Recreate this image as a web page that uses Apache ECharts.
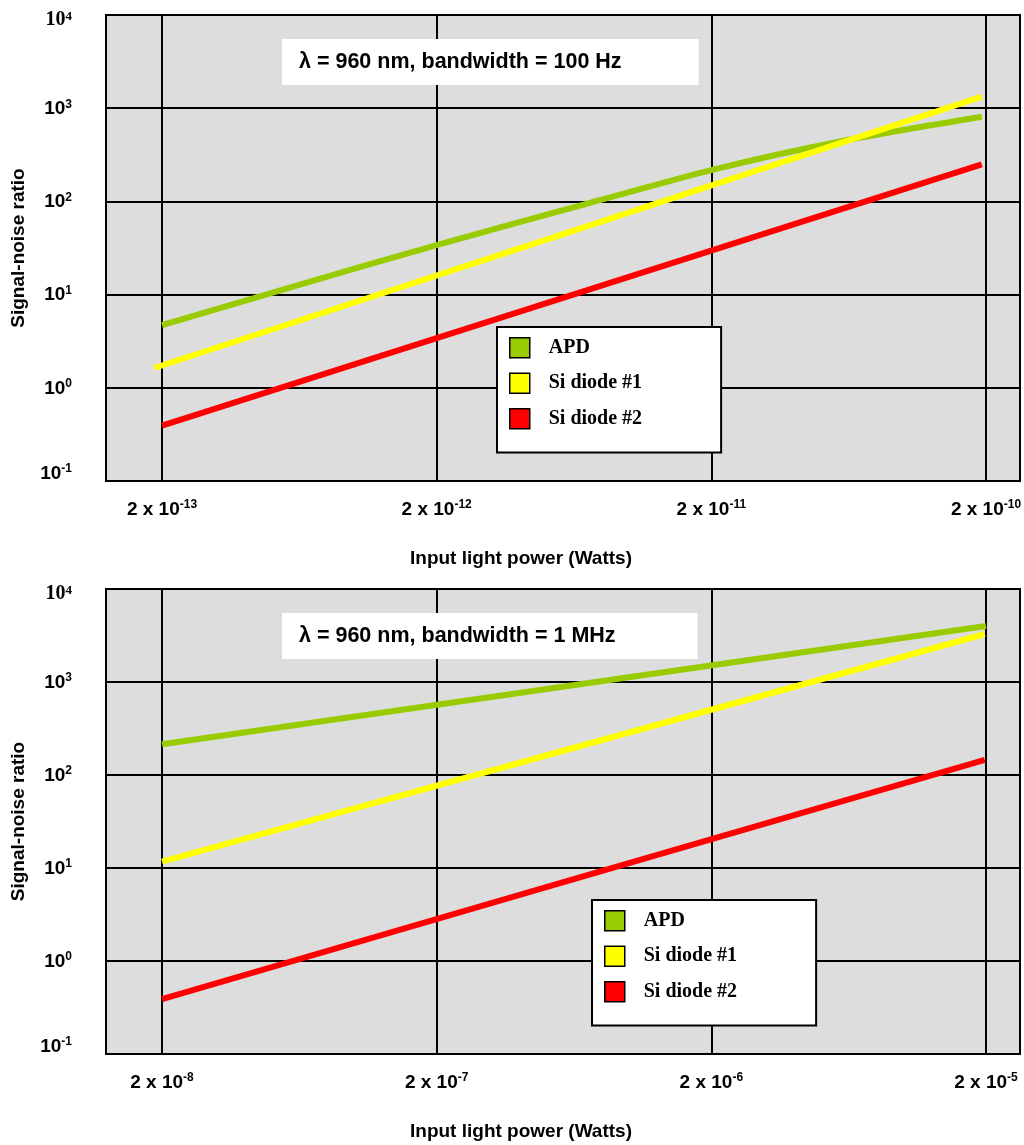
<!DOCTYPE html>
<html><head><meta charset="utf-8">
<script src="https://cdn.jsdelivr.net/npm/echarts@6/dist/echarts.min.js"></script>
<style>html,body{margin:0;padding:0;background:#fff}#c{width:1024px;height:1145px}</style>
</head><body><div id="c"></div>
<script>
// ---------- data ----------
const seriesNames = ['APD', 'Si diode #1', 'Si diode #2'];
const seriesColors = ['#99cc00', '#ffff00', '#ff0000'];
const panelTitles = ['λ = 960 nm, bandwidth = 100 Hz', 'λ = 960 nm, bandwidth = 1 MHz'];
const xAxisTitle = 'Input light power (Watts)';
const yAxisTitle = 'Signal-noise ratio';

// x tick values (Watts), labelled "2 x 10^n"
const xTicksTop = [2e-13, 2e-12, 2e-11, 2e-10];
const xTicksBottom = [2e-8, 2e-7, 2e-6, 2e-5];
// y range (log scale, ticks 10^-1 … 10^4)
const yMin = 0.1, yMax = 10000;

// top panel: bandwidth = 100 Hz
const apdTopPower = [2e-13, 6e-13, 2e-12, 6e-12, 2e-11, 6e-11, 1.93e-10];
const apdTop      = [4.7, 12.2, 34, 83, 217, 445, 810];
const si1TopPower = [1.875e-13, 6e-12, 1.93e-10];
const si1Top      = [1.63, 46.3, 1329];
const si2TopPower = [2e-13, 6e-12, 1.93e-10];
const si2Top      = [0.392, 9.57, 250];

// bottom panel: bandwidth = 1 MHz
const apdBottomPower = [2e-8, 6e-7, 2e-5];
const apdBottom      = [214, 906, 4000];
const si1BottomPower = [2e-8, 6e-7, 1.98e-5];
const si1Bottom      = [11.7, 188, 3283];
const si2BottomPower = [2e-8, 6e-7, 1.98e-5];
const si2Bottom      = [0.39, 7.25, 145];

// ---------- layout / style ----------
const SANS = 'Liberation Sans, Arial, sans-serif';
const SERIF = 'Liberation Serif, Times New Roman, serif';
const padLeftDec = 0.2039, padRightDec = 0.1238; // plot space beyond first/last tick (decades)

const richLabel = {
  b:  {fontFamily: SANS, fontWeight: 'bold', fontSize: 19, color: '#000', verticalAlign: 'bottom', lineHeight: 20},
  s:  {fontFamily: SANS, fontWeight: 'bold', fontSize: 12, color: '#000', verticalAlign: 'top', lineHeight: 12},
  bt: {fontFamily: SERIF, fontWeight: 'bold', fontSize: 20, color: '#000', verticalAlign: 'bottom', lineHeight: 20},
  st: {fontFamily: SERIF, fontWeight: 'bold', fontSize: 13, color: '#000', verticalAlign: 'top', lineHeight: 12},
  g10: {fontSize: 8, lineHeight: 10, color: 'rgba(0,0,0,0)'},
  g16: {fontSize: 8, lineHeight: 16, color: 'rgba(0,0,0,0)'}
};

function yFmt(v) {
  const e = Math.round(Math.log10(v));
  if (e === 4) return '{g10| }\n{bt|10}{st|' + e + '}';
  if (e === -1) return '{b|10}{s|' + e + '}\n{g16| }';
  return '{b|10}{s|' + e + '}';
}
function xFmt(p) {
  const v = (p.data && p.data.xAxis != null) ? p.data.xAxis : p.value;
  const e = Math.round(Math.log10(v / 2));
  return '{b|2 x 10}{s|' + e + '}';
}

const grids = [
  {left: 106, top: 15, right: 4, height: 466},
  {left: 106, top: 589, right: 4, height: 465}
];

function makeX(idx, ticks) {
  return {
    type: 'log', gridIndex: idx,
    min: Math.pow(10, Math.log10(ticks[0]) - padLeftDec),
    max: Math.pow(10, Math.log10(ticks[ticks.length - 1]) + padRightDec),
    axisLine: {show: false}, axisTick: {show: false}, axisLabel: {show: false}, splitLine: {show: false},
    name: xAxisTitle, nameLocation: 'middle', nameGap: 68,
    nameTextStyle: {fontFamily: SANS, fontWeight: 'bold', fontSize: 19, color: '#000', padding: [0, 84, 0, 0]}
  };
}
function makeY(idx) {
  return {
    type: 'log', gridIndex: idx, min: yMin, max: yMax, logBase: 10,
    axisLine: {show: false}, axisTick: {show: false},
    splitLine: {show: true, lineStyle: {color: '#000', width: 2}},
    axisLabel: {margin: 34, formatter: yFmt, rich: richLabel},
    name: yAxisTitle, nameLocation: 'middle', nameGap: 78,
    nameTextStyle: {fontFamily: SANS, fontWeight: 'bold', fontSize: 19, color: '#000'}
  };
}

function makeSeries(gi, power, vals, k, ticks, curved) {
  const s = {
    type: 'line', name: seriesNames[k], xAxisIndex: gi, yAxisIndex: gi,
    data: power.map((p, i) => [p, vals[i]]),
    showSymbol: false, symbol: 'none', z: 3,
    smooth: curved ? 0.25 : false,
    lineStyle: {width: 6, color: seriesColors[k], cap: 'butt'},
    itemStyle: {color: seriesColors[k]},
    emphasis: {disabled: true}
  };
  if (ticks) {
    s.markLine = {
      silent: true, symbol: ['none', 'none'], z: 1, precision: 20, animation: false,
      lineStyle: {color: '#000', width: 2, type: 'solid'},
      label: {show: true, position: 'start', distance: 18, formatter: xFmt, rich: richLabel},
      emphasis: {disabled: true},
      data: ticks.map(v => ({xAxis: v}))
    };
  }
  return s;
}

function makeLegend(left, top) {
  return {
    left: left, top: top, orient: 'vertical', data: seriesNames, icon: 'rect',
    itemWidth: 20, itemHeight: 20, itemGap: 14, selectedMode: false,
    backgroundColor: '#fff', borderColor: '#000', borderWidth: 2,
    padding: [10, 79, 23, 12],
    itemStyle: {borderColor: '#000', borderWidth: 1.5},
    textStyle: {fontFamily: SERIF, fontWeight: 'bold', fontSize: 20, lineHeight: 20, color: '#000', padding: [0, 0, 0, 14]}
  };
}
function makeTitle(text, top, padRight) {
  return {
    text: text, left: 282, top: top, backgroundColor: '#fff', padding: [12, padRight, 12, 17],
    textStyle: {fontFamily: SANS, fontWeight: 'bold', fontSize: 21.5, color: '#000'}
  };
}

const option = {
  animation: false,
  backgroundColor: '#fff',
  title: [makeTitle(panelTitles[0], 39, 77), makeTitle(panelTitles[1], 613, 82)],
  legend: [makeLegend(497, 327), makeLegend(592, 900)],
  grid: grids.map(g => Object.assign({show: true, backgroundColor: '#dddddd', borderColor: '#000', borderWidth: 2, outerBoundsMode: 'none', containLabel: false}, g)),
  xAxis: [makeX(0, xTicksTop), makeX(1, xTicksBottom)],
  yAxis: [makeY(0), makeY(1)],
  series: [
    makeSeries(0, apdTopPower, apdTop, 0, xTicksTop, true),
    makeSeries(0, si1TopPower, si1Top, 1, null, false),
    makeSeries(0, si2TopPower, si2Top, 2, null, false),
    makeSeries(1, apdBottomPower, apdBottom, 0, xTicksBottom, false),
    makeSeries(1, si1BottomPower, si1Bottom, 1, null, false),
    makeSeries(1, si2BottomPower, si2Bottom, 2, null, false)
  ]
};

const chart = echarts.init(document.getElementById('c'), null, {renderer: 'canvas'});
chart.setOption(option);
</script>
</body></html>
